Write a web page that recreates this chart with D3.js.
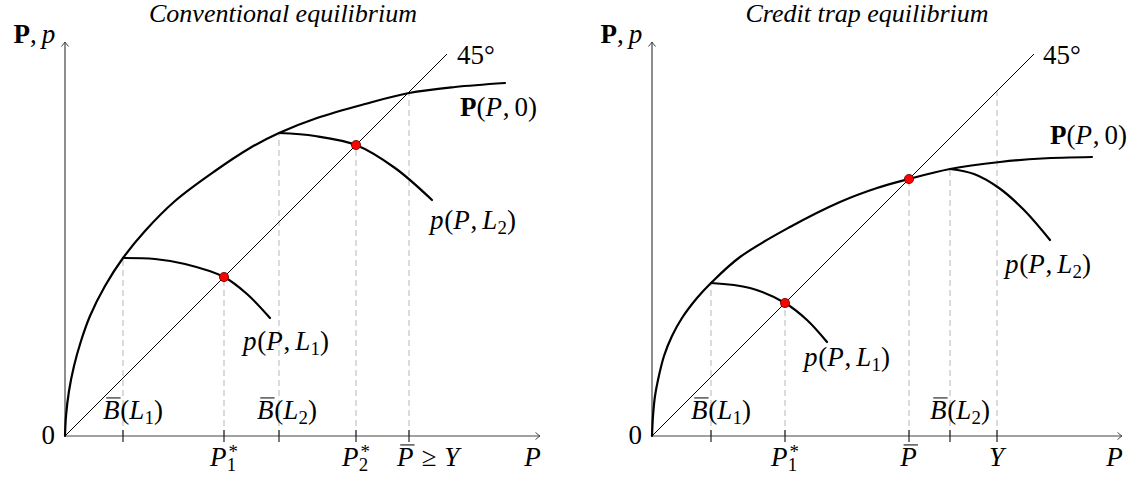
<!DOCTYPE html>
<html><head><meta charset="utf-8">
<script src="https://cdn.jsdelivr.net/npm/d3@7"></script>
<style>
html,body{margin:0;padding:0;background:#fff;}
svg{display:block;}
text{fill:#000;}
</style></head><body>
<svg id="chart" width="1142" height="477"></svg>
<script>
// ================= DATA (1 unit = 10 px) =================
const titles = ["Conventional equilibrium", "Credit trap equilibrium"];

// Left panel: conventional equilibrium
const leftFrontier = [[0,0],[0.1,2.0],[0.4,4.5],[0.9,7.0],[1.6,9.5],[2.5,12.0],[4.0,15.0],[5.8,17.8],[8.0,20.5],[11.0,23.5],[15.0,26.5],[18.5,28.8],[21.4,30.3],[25.2,31.8],[30.0,33.2],[34.4,34.3],[39.0,34.9],[44.0,35.3]];
const leftCurveL1 = [[5.8,17.8],[9.0,17.7],[12.0,17.2],[15.9,15.9],[18.2,14.2],[20.5,11.8]];
const leftCurveL2 = [[21.4,30.3],[25.0,30.0],[29.1,29.1],[33.0,26.8],[36.7,23.6]];
const leftEquilibria = [[15.9,15.9],[29.1,29.1]];
const leftTicks = [5.8, 15.9, 21.4, 29.1, 34.4];
const leftGuideTops = [17.8, 15.9, 30.3, 29.1, 34.4];
const leftTickLabels = ["\\bar{B}(L_1)", "P_1^*", "\\bar{B}(L_2)", "P_2^*", "\\bar{P} \\ge Y"];

// Right panel: credit trap equilibrium
const rightFrontier = [[0,0],[0.1,2.0],[0.3,4.0],[0.6,5.6],[1.2,8.0],[2.0,10.0],[3.0,11.8],[4.5,13.8],[5.9,15.3],[8.8,17.9],[13.8,20.9],[18.8,23.4],[22.5,24.8],[25.7,25.7],[29.8,26.7],[34.8,27.4],[39.0,27.75],[44.0,27.9]];
const rightCurveL1 = [[5.9,15.3],[9.8,14.8],[13.3,13.3],[15.5,11.6],[17.5,9.4]];
const rightCurveL2 = [[29.8,26.7],[32.2,26.2],[34.7,24.8],[37.2,22.6],[39.8,19.6]];
const rightEquilibria = [[13.3,13.3],[25.7,25.7]];
const rightTicks = [5.9, 13.3, 25.7, 29.8, 34.5];
const rightGuideTops = [15.3, 13.3, 25.7, 26.7, 34.5];
const rightTickLabels = ["\\bar{B}(L_1)", "P_1^*", "\\bar{P}", "\\bar{B}(L_2)", "Y"];

const diagonalExtent = [0, 38.2];
const curveLabels = ["\\bf{P}(P, 0)", "p(P, L_1)", "p(P, L_2)", "45\\deg"];
const axisLabels = ["\\bf{P}, p", "P", "0"];

// ================= LAYOUT =================
const FONT = '"Liberation Serif", "DejaVu Serif", serif';
const FS = 27;
const svg = d3.select("#chart");
const defs = svg.append("defs");
defs.append("marker").attr("id","arr").attr("viewBox","-6 -5 8 10")
  .attr("refX",0).attr("refY",0).attr("markerWidth",8).attr("markerHeight",10)
  .attr("markerUnits","userSpaceOnUse").attr("orient","auto")
  .append("path").attr("d","M-4.5,-3.6 Q-1.6,-0.9 0,0 Q-1.6,0.9 -4.5,3.6")
  .attr("fill","none").attr("stroke","#444").attr("stroke-width",1);

function parseMath(s){
  const out=[]; let i=0;
  while(i<s.length){
    if(s.startsWith("\\bar{",i)){ const j=s.indexOf("}",i); out.push({t:s.slice(i+5,j),st:"i",bar:true}); i=j+1; continue; }
    if(s.startsWith("\\bf{",i)){ const j=s.indexOf("}",i); out.push({t:s.slice(i+4,j),st:"b"}); i=j+1; continue; }
    if(s.startsWith("\\ge",i)){ out.push({t:"\u2265",st:"r",rel:true}); i+=3; continue; }
    if(s.startsWith("\\deg",i)){ out.push({t:"\u00b0",st:"r"}); i+=4; continue; }
    const c=s[i];
    if(c==="_"||c==="^"){ const v=s[i+1]; out.push({t:v,st:/[0-9*]/.test(v)?"r":"i",pos:c==="_"?"sub":"sup"}); i+=2; continue; }
    if(c===" "){ i++; continue; }
    out.push({t:c, st:/[A-Za-z]/.test(c)?"i":"r"}); i++;
  }
  return out;
}

// draws a small math expression as ONE text element made of tspans
function drawMath(g, str, x, y, anchor, size){
  size = size || FS;
  const toks = parseMath(str);
  const grp = g.append("g");
  const text = grp.append("text").attr("x",0).attr("y",0)
    .attr("font-family",FONT).style("font-size",size+"px");
  let cx = 0, pen = 0, level = 0, scriptStart = 0, scriptEnd = 0;
  const bars = [];
  toks.forEach((tk,k)=>{
    const prevScript = k>0 && toks[k-1].pos;
    let target = 0, fs = size, startX;
    if(tk.pos){
      target = tk.pos==="sub" ? size*0.2 : -size*0.3;
      fs = size*0.7;
      if(!prevScript){ scriptStart = cx; scriptEnd = cx; }
      startX = scriptStart + (tk.pos==="sup" ? size*0.05 : -size*0.02);
    } else {
      startX = cx + (tk.rel ? size*0.28 : 0);
    }
    const ts = text.append("tspan")
      .attr("dx", (startX - pen).toFixed(2)).attr("dy", (target - level).toFixed(2))
      .style("font-size", fs+"px")
      .style("font-style", tk.st==="i" ? "italic" : "normal")
      .style("font-weight", tk.st==="b" ? "bold" : "normal")
      .text(tk.t);
    const w = ts.node().getComputedTextLength();
    pen = startX + w; level = target;
    if(tk.bar) bars.push([startX + size*0.12, startX + w + size*0.04]);
    if(tk.pos){ scriptEnd = Math.max(scriptEnd, pen); cx = scriptEnd; }
    else {
      cx = pen;
      if(tk.st==="i") cx += size*0.03;
      if(tk.rel) cx += size*0.28;
      if(tk.t===",") cx += size*0.18;
    }
  });
  bars.forEach(b=>grp.append("line").attr("x1",b[0]).attr("x2",b[1])
    .attr("y1",-size*0.78).attr("y2",-size*0.78).attr("stroke","#000").attr("stroke-width",1));
  const shift = anchor==="middle" ? -cx/2 : anchor==="end" ? -cx : 0;
  grp.attr("transform",`translate(${(x+shift).toFixed(2)},${y})`);
  return grp;
}

const panels = [
  { ox:65, title:titles[0], titleX:283, frontier:leftFrontier, c1:leftCurveL1, c2:leftCurveL2,
    eq:leftEquilibria, ticks:leftTicks, guides:leftGuideTops, tickLabels:leftTickLabels,
    xEnd:47.5,
    tickLayout:[{a:"start",dx:-20,above:true},{a:"middle",dx:0},{a:"start",dx:-22,above:true},{a:"middle",dx:0},{a:"start",dx:-12}],
    lab:{P0:[39.5,32.0],L1:[22.1,8.6],L2:[40.8,20.7],deg:[39.2,37.2]} },
  { ox:652, title:titles[1], titleX:867, frontier:rightFrontier, c1:rightCurveL1, c2:rightCurveL2,
    eq:rightEquilibria, ticks:rightTicks, guides:rightGuideTops, tickLabels:rightTickLabels,
    xEnd:47.0,
    tickLayout:[{a:"start",dx:-20,above:true},{a:"middle",dx:0},{a:"middle",dx:0},{a:"start",dx:-20,above:true},{a:"middle",dx:0}],
    lab:{P0:[39.8,29.2],L1:[19.5,7.0],L2:[39.6,16.3],deg:[39.1,37.2]} }
];

const oy = 436, unit = 10, yTop = 39.4;

panels.forEach(p=>{
  const x = d3.scaleLinear().domain([0, p.xEnd]).range([p.ox, p.ox + p.xEnd*unit]);
  const y = d3.scaleLinear().domain([0, yTop]).range([oy, oy - yTop*unit]);
  const g = svg.append("g");
  const line = d3.line().x(d=>x(d[0])).y(d=>y(d[1])).curve(d3.curveCatmullRom.alpha(0.5));

  // title
  g.append("text").attr("x",p.titleX).attr("y",22).attr("text-anchor","middle")
    .attr("font-family",FONT).style("font-size","26px").style("font-style","italic").text(p.title);

  // dashed guides
  g.selectAll(".guide").data(p.ticks).join("line").attr("class","guide")
    .attr("x1",d=>x(d)).attr("x2",d=>x(d)).attr("y1",y(0)).attr("y2",(d,i)=>y(p.guides[i]))
    .attr("stroke","#c4c4c4").attr("stroke-width",1.2).attr("stroke-dasharray","6,4");

  // axes with arrow tips and ticks
  g.append("line").attr("x1",x(0)).attr("y1",y(0)).attr("x2",x(p.xEnd)).attr("y2",y(0))
    .attr("stroke","#444").attr("stroke-width",1.2).attr("marker-end","url(#arr)");
  g.append("line").attr("x1",x(0)).attr("y1",y(0)).attr("x2",x(0)).attr("y2",y(yTop))
    .attr("stroke","#444").attr("stroke-width",1.2).attr("marker-end","url(#arr)");
  g.selectAll(".tk").data(p.ticks).join("line").attr("class","tk")
    .attr("x1",d=>x(d)).attr("x2",d=>x(d)).attr("y1",y(0)-6).attr("y2",y(0)+6)
    .attr("stroke","#222").attr("stroke-width",1.2);

  // 45 degree line
  g.append("line").attr("x1",x(diagonalExtent[0])).attr("y1",y(diagonalExtent[0]))
    .attr("x2",x(diagonalExtent[1])).attr("y2",y(diagonalExtent[1]))
    .attr("stroke","#000").attr("stroke-width",1);

  // curves
  [p.frontier, p.c1, p.c2].forEach(c=>{
    g.append("path").attr("d",line(c)).attr("fill","none").attr("stroke","#000").attr("stroke-width",2.2)
      .attr("stroke-linecap","round");
  });

  // equilibrium dots
  g.selectAll(".dot").data(p.eq).join("circle").attr("class","dot")
    .attr("cx",d=>x(d[0])).attr("cy",d=>y(d[1])).attr("r",4.6)
    .attr("fill","#ff0000").attr("stroke","#5a0000").attr("stroke-width",0.8);

  // tick labels
  p.tickLabels.forEach((s,i)=>{
    const L = p.tickLayout[i];
    drawMath(g, s, x(p.ticks[i]) + L.dx, L.above ? y(0)-17 : y(0)+30, L.a);
  });

  // axis labels
  drawMath(g, axisLabels[0], x(0)-9, y(yTop)+1, "end");
  drawMath(g, axisLabels[1], x(p.xEnd)-7, y(0)+30, "middle");
  drawMath(g, axisLabels[2], x(0)-10, y(0)+8, "end");

  // curve labels
  drawMath(g, curveLabels[0], x(p.lab.P0[0]), y(p.lab.P0[1]), "start");
  drawMath(g, curveLabels[1], x(p.lab.L1[0]), y(p.lab.L1[1]), "middle");
  drawMath(g, curveLabels[2], x(p.lab.L2[0]), y(p.lab.L2[1]), "middle");
  drawMath(g, curveLabels[3], x(p.lab.deg[0]), y(p.lab.deg[1]), "start");
});
</script>
</body></html>
